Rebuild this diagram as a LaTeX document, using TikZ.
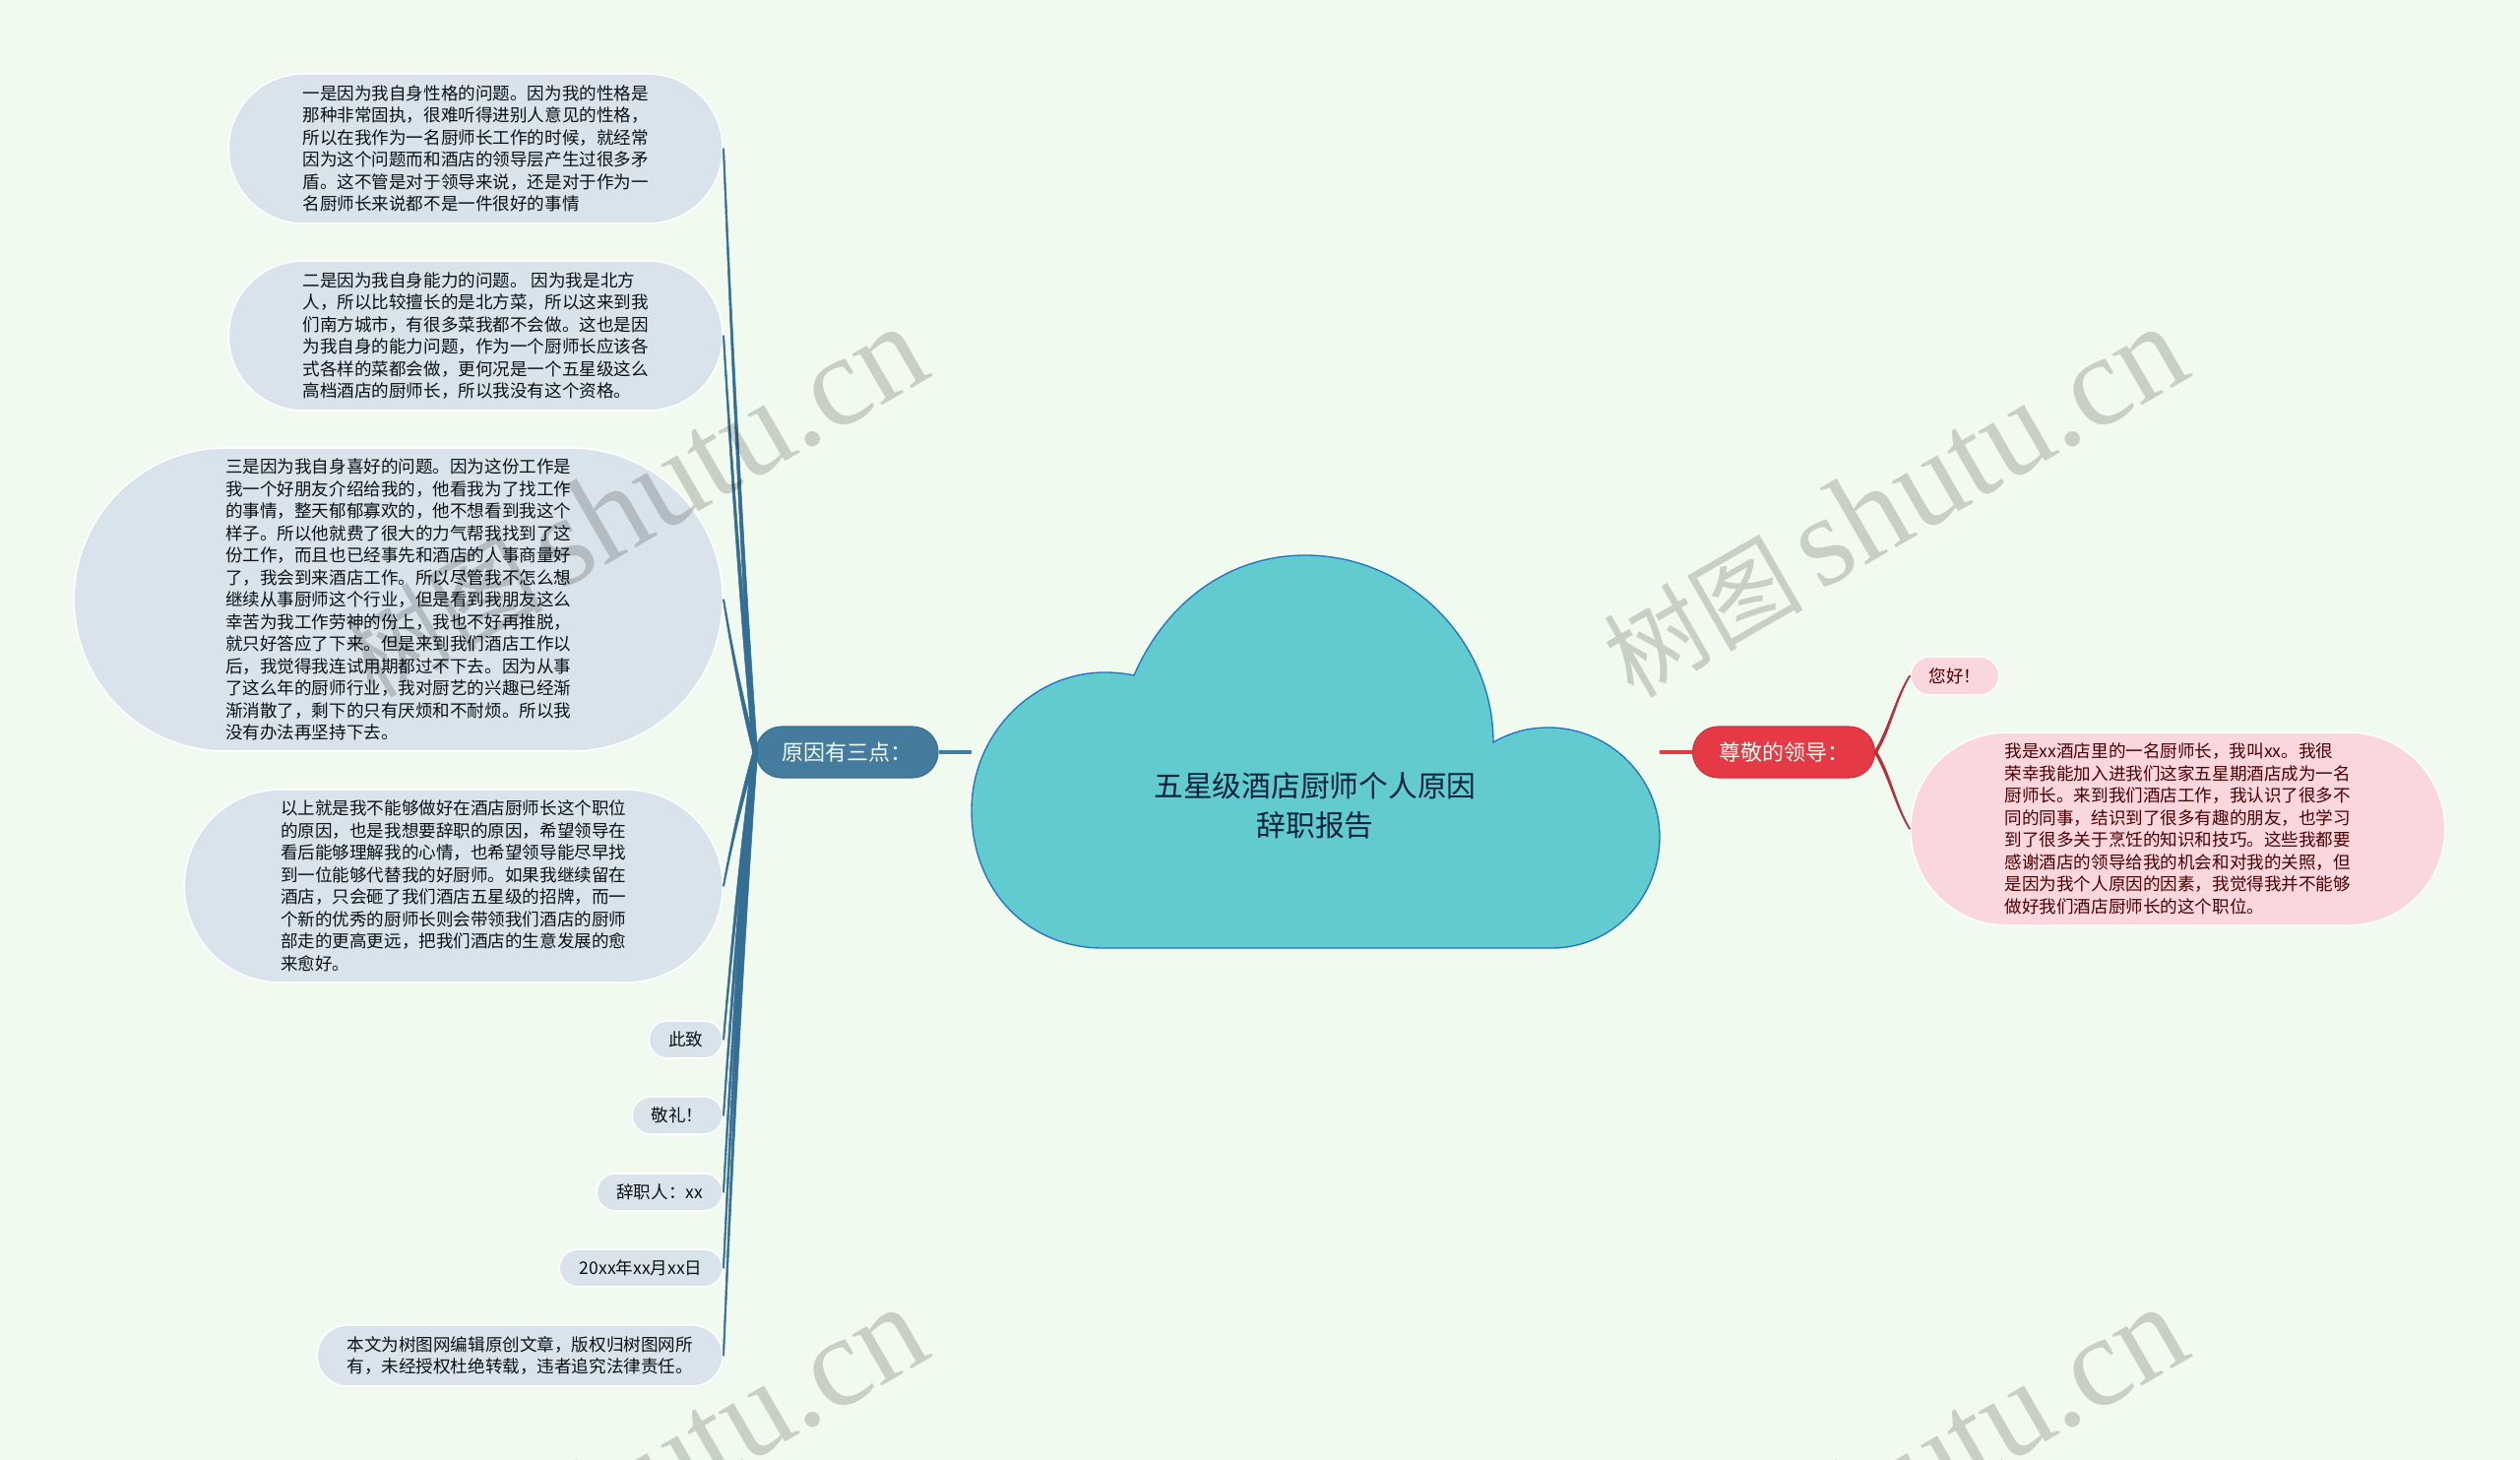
\documentclass[tikz,border=0pt]{standalone}
\usepackage{fontspec}
\setmainfont{Noto Sans CJK SC}
\newfontfamily\wmlatin{Liberation Serif}
\usetikzlibrary{calc}

\definecolor{bgcol}{HTML}{F1FAEE}
\definecolor{cloudfill}{HTML}{62CBD0}
\definecolor{cloudline}{HTML}{1F74C4}
\definecolor{bluecol}{HTML}{457B9D}
\definecolor{bluedark}{HTML}{356E94}
\definecolor{bluepale}{HTML}{D9E3EB}
\definecolor{redcol}{HTML}{E63946}
\definecolor{reddark}{HTML}{B5303A}
\definecolor{redpale}{HTML}{FAD7DD}

\tikzset{
    leaf/.style 2 args={rectangle, draw=white, line width=1.2pt, inner sep=0pt,
        outer sep=0.6pt, align=left, minimum width=#1*0.75pt, minimum height=#2*0.75pt,
        rounded corners=#2*0.375pt, font=\fontsize{13.17}{16.875}\selectfont},
    leafblue/.style 2 args={leaf={#1}{#2}, fill=bluepale, text=black!85!bluecol, anchor=east},
    leafred/.style 2 args={leaf={#1}{#2}, fill=redpale, text=red!30!black, anchor=west},
    topic/.style={rectangle, rounded corners=26*0.75pt, inner sep=0pt, outer sep=0.6pt,
        minimum width=185*0.75pt, minimum height=52*0.75pt, text=bgcol, line width=0.8pt,
        font=\fontsize{16.5}{20}\selectfont},
    branchblue/.style={draw=bluedark, fill=bluedark, line width=0.4pt},
    branchred/.style={draw=reddark, fill=reddark, line width=0.4pt},
}

\begin{document}
\begin{tikzpicture}[x=0.75pt,y=-0.75pt]
    % 背景
    \fill[bgcol] (0,0) rectangle (2560,1483);
    \useasboundingbox (0,0) rectangle (2560,1483);
    \clip (0,0) rectangle (2560,1483);

    % 云
    \draw[fill=cloudfill, draw=cloudline, line width=1pt]
        (1120,963) .. controls (1045,963) and (987,905) .. (987,823)
        .. controls (987,745) and (1050,683) .. (1122,683)
        .. controls (1133,683) and (1143,684) .. (1152,686)
        .. controls (1185,610) and (1250,564) .. (1326,564)
        .. controls (1430,564) and (1517,650) .. (1517,754)
        .. controls (1533,745) and (1550,739) .. (1573,739)
        .. controls (1635,739) and (1686,790) .. (1686,850)
        .. controls (1686,910) and (1640,963) .. (1576,963) -- cycle;
    \node[align=center, text=black!70!cloudline, font=\fontsize{22.3}{30}\selectfont] (root) at (1336,818)
        {五星级酒店厨师个人原因\\辞职报告};
    \coordinate (rootwest) at (987,764);
    \coordinate (rooteast) at (1686,764);

    % 主题
    \node[topic, fill=bluecol, draw=bluedark] (cause) at (860.5,764) {原因有三点：};
    \node[topic, fill=redcol, draw=reddark!60!redcol] (greet) at (1812,764) {尊敬的领导：};
    \draw[draw=bluecol, line width=3pt] (cause.east) -- (rootwest);
    \draw[draw=redcol, line width=3pt] (rooteast) -- (greet.west);

    % 左边
    \node[leafblue={502}{152}] (one) at (735,151) {一是因为我自身性格的问题。因为我的性格是\\那种非常固执，很难听得进别人意见的性格，\\所以在我作为一名厨师长工作的时候，就经常\\因为这个问题而和酒店的领导层产生过很多矛\\盾。这不管是对于领导来说，还是对于作为一\\名厨师长来说都不是一件很好的事情};
    \node[leafblue={502}{152}] (two) at (735,341) {二是因为我自身能力的问题。 因为我是北方\\人，所以比较擅长的是北方菜，所以这来到我\\们南方城市，有很多菜我都不会做。这也是因\\为我自身的能力问题，作为一个厨师长应该各\\式各样的菜都会做，更何况是一个五星级这么\\高档酒店的厨师长，所以我没有这个资格。};
    \node[leafblue={659}{308}] (three) at (735,609) {三是因为我自身喜好的问题。因为这份工作是\\我一个好朋友介绍给我的，他看我为了找工作\\的事情，整天郁郁寡欢的，他不想看到我这个\\样子。所以他就费了很大的力气帮我找到了这\\份工作，而且也已经事先和酒店的人事商量好\\了，我会到来酒店工作。所以尽管我不怎么想\\继续从事厨师这个行业，但是看到我朋友这么\\幸苦为我工作劳神的份上，我也不好再推脱，\\就只好答应了下来。但是来到我们酒店工作以\\后，我觉得我连试用期都过不下去。因为从事\\了这么年的厨师行业，我对厨艺的兴趣已经渐\\渐消散了，剩下的只有厌烦和不耐烦。所以我\\没有办法再坚持下去。};
    \node[leafblue={547}{196}] (four) at (735,900) {以上就是我不能够做好在酒店厨师长这个职位\\的原因，也是我想要辞职的原因，希望领导在\\看后能够理解我的心情，也希望领导能尽早找\\到一位能够代替我的好厨师。如果我继续留在\\酒店，只会砸了我们酒店五星级的招牌，而一\\个新的优秀的厨师长则会带领我们酒店的厨师\\部走的更高更远，把我们酒店的生意发展的愈\\来愈好。};
    \node[leafblue={75}{38}] (regards) at (735,1056) {此致};
    \node[leafblue={92}{38}] (salute) at (735,1133) {敬礼！};
    \node[leafblue={128}{38}] (signer) at (735,1211) {辞职人：xx};
    \node[leafblue={166}{38}] (date) at (735,1288) {20xx年xx月xx日};
    \node[leafblue={412}{62}] (notice) at (735,1377) {本文为树图网编辑原创文章，版权归树图网所\\有，未经授权杜绝转载，违者追究法律责任。};

    % 右边
    \node[leafred={90}{39}] (hello) at (1940,686.5) {您好！};
    \node[leafred={543}{196}] (intro) at (1940,842) {我是xx酒店里的一名厨师长，我叫xx。我很\\荣幸我能加入进我们这家五星期酒店成为一名\\厨师长。来到我们酒店工作，我认识了很多不\\同的同事，结识到了很多有趣的朋友，也学习\\到了很多关于烹饪的知识和技巧。这些我都要\\感谢酒店的领导给我的机会和对我的关照，但\\是因为我个人原因的因素，我觉得我并不能够\\做好我们酒店厨师长的这个职位。};

    % 连线
    \foreach \leafname in {one,two,three,four,regards,salute,signer,date,notice}
        \draw[branchblue] ($(cause.west)+(-2.4,0)$)
            .. controls ($(cause.west)!.3!(\leafname.east)+(-4.8,0)$) and ($(cause.west)!.7!(\leafname.east)+(-3,0)$) .. ($(\leafname.east)+(-.7,0)$)
            -- ($(\leafname.east)+(.7,0)$)
            .. controls ($(cause.west)!.7!(\leafname.east)+(-1,0)$) and ($(cause.west)!.3!(\leafname.east)+(-1.2,0)$) .. ($(cause.west)+(2.4,0)$) -- cycle;
    \foreach \leafname in {hello,intro}
        \draw[branchred] ($(greet.east)+(-1.6,0)$)
            .. controls ($(greet.east)!.3!(\leafname.west)+(2.6,0)$) and ($(greet.east)!.7!(\leafname.west)+(-4.8,0)$) .. ($(\leafname.west)+(-.7,0)$)
            -- ($(\leafname.west)+(.7,0)$)
            .. controls ($(greet.east)!.7!(\leafname.west)+(-3.2,0)$) and ($(greet.east)!.3!(\leafname.west)+(5.4,0)$) .. ($(greet.east)+(1.6,0)$) -- cycle;

    % 水印
    \foreach \i/\dx/\dy in {1/0/0, 2/-1280/0, 3/0/996, 4/-1280/996}
        \node[rotate=30, opacity=.17, text=black, inner sep=0pt] (mark\i) at (1924+\dx,510+\dy)
            {\fontsize{76}{80}\selectfont 树图\,\fontsize{98}{103}\selectfont\wmlatin shutu.cn};
\end{tikzpicture}
\end{document}
